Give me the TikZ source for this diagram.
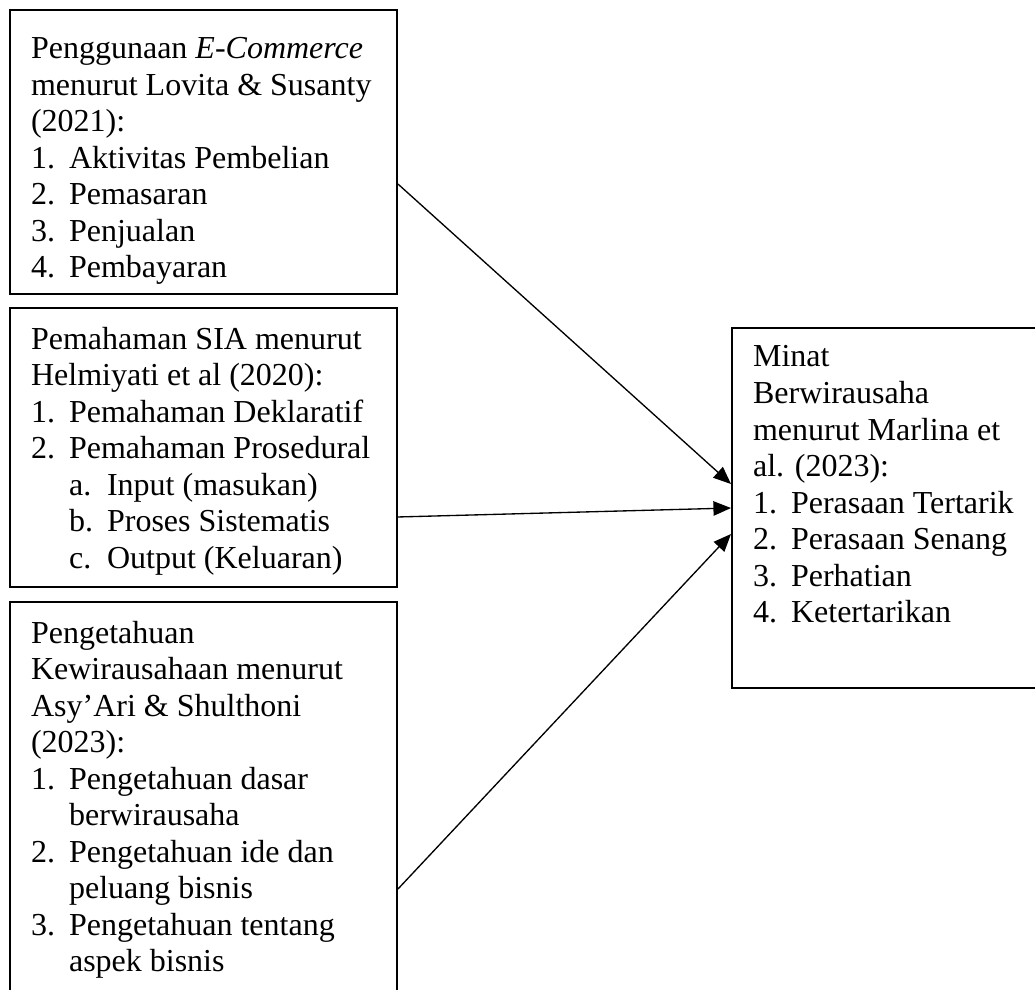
\documentclass[tikz,border=0pt]{standalone}
\usepackage{fontspec}
\setmainfont{Liberation Serif}
\usetikzlibrary{positioning, arrows.meta}

\newcommand{\itm}[2]{\makebox[14.25pt][l]{#1}#2}
\newcommand{\ind}{\hspace*{14.25pt}}

\begin{document}
\begin{tikzpicture}
    [
        x=0.375pt, y=-0.375pt,
        src_box/.style={draw=black, line width=0.75pt, anchor=north west, inner xsep=7.9pt, inner ysep=0pt, font=\fontsize{12pt}{13.7pt}\selectfont},
        link_arrow/.style={-{Triangle[length=6.6pt, width=5.4pt]}, line width=0.5pt, color=black},
    ]
        \useasboundingbox (0,0) rectangle (1035,989);
        \node[src_box] (ecom) at (9,9) {\parbox[c][106.5pt][t]{129.3pt}{\rule{0pt}{18.2pt}Penggunaan \textit{E-Commerce}\\ menurut Lovita \& Susanty\\ (2021):\\ \itm{1.}{Aktivitas Pembelian}\\ \itm{2.}{Pemasaran}\\ \itm{3.}{Penjualan}\\ \itm{4.}{Pembayaran}}} ;
        \node[src_box] (sia) at (9,307) {\parbox[c][104.6pt][t]{129.3pt}{\rule{0pt}{15.4pt}Pemahaman SIA menurut\\ Helmiyati et al (2020):\\ \itm{1.}{Pemahaman Deklaratif}\\ \itm{2.}{Pemahaman Prosedural}\\ \ind\itm{a.}{Input (masukan)}\\ \ind\itm{b.}{Proses Sistematis}\\ \ind\itm{c.}{Output (Keluaran)}}} ;
        \node[src_box] (kwu) at (9,601) {\parbox[c][150pt][t]{129.3pt}{\rule{0pt}{15.4pt}Pengetahuan\\ Kewirausahaan menurut\\ Asy’Ari \& Shulthoni\\ (2023):\\ \itm{1.}{Pengetahuan dasar}\\ \ind berwirausaha\\ \itm{2.}{Pengetahuan ide dan}\\ \ind peluang bisnis\\ \itm{3.}{Pengetahuan tentang}\\ \ind aspek bisnis}} ;
        \node[src_box] (minat) at (731,327) {\parbox[c][135pt][t]{104.2pt}{\rule{0pt}{14.6pt}Minat\\ Berwirausaha\\ menurut Marlina et\\ al. (2023):\\ \itm{1.}{Perasaan Tertarik}\\ \itm{2.}{Perasaan Senang}\\ \itm{3.}{Perhatian}\\ \itm{4.}{Ketertarikan}}} ;
        \draw[link_arrow] ([shift={(0,32)}]ecom.east) -- ([shift={(0,-24)}]minat.west) ;
        \draw[link_arrow] ([shift={(0,69.5)}]sia.east) -- (minat.west) ;
        \draw[link_arrow] ([shift={(0,87)}]kwu.east) -- ([shift={(0,26)}]minat.west) ;
    \end{tikzpicture}
\end{document}
